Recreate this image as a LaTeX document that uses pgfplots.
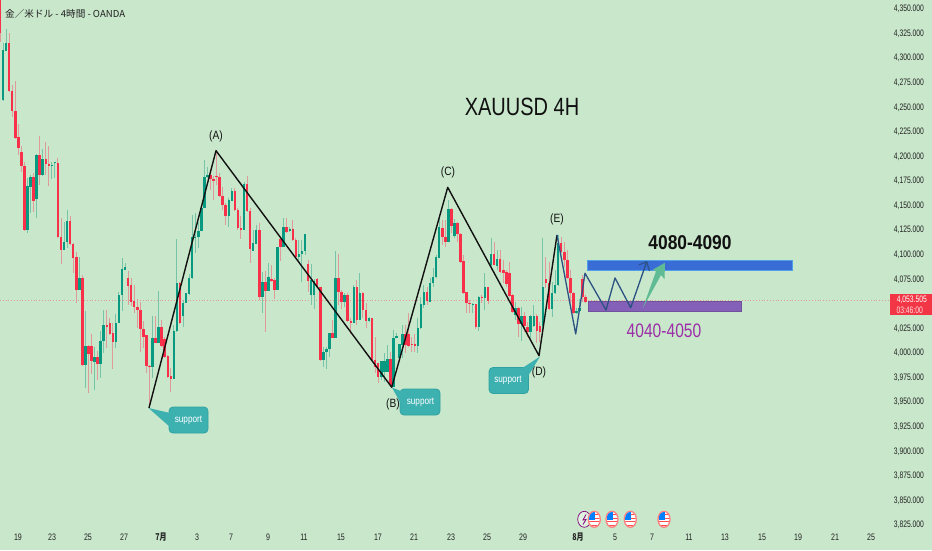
\documentclass[border=0pt]{standalone}
\usepackage{pgfplots}
\usepackage{pgfplotstable}
\usepackage{fontspec}
\pgfplotsset{compat=1.18}
\setmainfont{Liberation Sans}
\newfontfamily\cjk{Noto Sans CJK JP}
\definecolor{bgc}{HTML}{C9E7CB}
\definecolor{upc}{HTML}{089981}
\definecolor{dnc}{HTML}{F9304A}
\definecolor{upw}{HTML}{78C4A8}
\definecolor{dnw}{HTML}{E09A9A}
\definecolor{blk}{HTML}{111111}
\definecolor{wavec}{HTML}{2B5283}
\definecolor{zoneb}{HTML}{3A6CD6}
\definecolor{zonebe}{HTML}{4FA0E8}
\definecolor{zonep}{HTML}{8460B8}
\definecolor{arrg}{HTML}{5FBB94}
\definecolor{teal1}{HTML}{3DB0B0}
\definecolor{teal2}{HTML}{2FA3A3}
\definecolor{txtc}{HTML}{222222}
\definecolor{tagc}{HTML}{F23645}
\definecolor{purp}{HTML}{9C2FA8}
\pgfplotstableread{
x open high low close
1 4257.2 4315.2 4256.5 4308.4
2 4307.4 4329.7 4307.4 4315.2
9 4125.6 4177.8 4122.2 4169.7
10 4169.0 4181.2 4142.2 4178.8
12 4156.5 4202.2 4137.1 4201.2
14 4181.2 4207.7 4180.5 4197.1
17 4190.0 4194.1 4177.1 4191.4
18 4193.0 4194.8 4178.5 4194.1
21 4104.6 4133.7 4104.6 4112.7
22 4112.7 4145.6 4106.6 4134.4
26 4064.2 4097.8 4064.2 4076.8
28 3987.9 4042.8 3964.9 4006.9
31 3991.3 4006.6 3962.8 3996.0
33 3988.9 4022.5 3974.3 4012.7
34 4012.7 4043.9 4000.0 4028.9
38 4011.3 4039.5 4005.6 4031.0
39 4031.0 4061.8 4030.3 4059.1
40 4059.1 4096.4 4042.8 4085.6
41 4084.6 4091.3 4084.6 4087.9
50 3986.2 4037.8 3974.7 4015.7
52 4010.0 4063.5 4010.0 4026.6
57 3974.0 4028.6 3974.0 4022.8
58 4022.8 4116.1 4021.8 4071.0
60 4037.8 4054.0 4026.9 4051.3
61 4051.3 4061.5 4050.6 4060.8
62 4060.1 4080.5 4059.5 4076.1
63 4076.1 4140.5 4075.7 4117.8
64 4117.4 4142.9 4101.5 4118.5
65 4117.8 4133.7 4106.6 4123.9
66 4124.6 4150.7 4124.6 4147.3
67 4147.3 4196.5 4147.3 4179.5
68 4179.5 4189.7 4177.8 4181.2
75 4139.5 4157.5 4128.6 4155.8
76 4155.1 4167.6 4155.1 4164.9
80 4125.2 4174.4 4125.2 4172.0
83 4104.2 4125.2 4104.2 4111.7
84 4111.0 4130.3 4111.0 4125.2
86 4056.7 4082.8 4040.5 4072.0
88 4063.5 4091.3 4063.5 4077.4
91 4064.2 4108.3 4064.2 4108.3
93 4107.6 4137.8 4107.6 4128.0
95 4124.6 4128.0 4123.5 4126.6
98 4097.4 4115.1 4093.0 4100.8
99 4100.5 4115.0 4072.6 4104.2
100 4104.2 4120.8 4099.8 4120.8
102 4058.7 4090.6 4048.9 4074.3
103 4058.7 4075.0 4044.5 4073.7
106 3993.0 4006.5 3985.5 4001.4
107 4001.1 4006.5 3983.8 4003.8
108 4003.8 4020.1 3996.3 4020.1
110 4015.7 4104.2 4015.0 4076.0
113 4052.3 4060.8 4047.2 4059.1
116 4030.9 4069.3 4030.9 4067.6
118 4033.6 4081.1 4033.6 4060.8
121 4033.0 4036.4 4032.0 4035.3
125 3976.0 3992.3 3972.6 3991.6
126 3981.1 3999.7 3970.2 3991.6
127 3981.1 4008.2 3981.1 3994.0
129 3965.8 4023.5 3965.1 4015.0
130 4015.0 4020.1 4015.0 4017.4
131 3994.7 4009.2 3994.7 4009.2
132 4008.2 4028.6 3994.7 4019.1
137 4007.2 4035.3 3999.7 4025.2
138 4025.2 4057.4 4024.5 4049.9
139 4048.9 4069.3 4045.5 4061.8
141 4052.3 4076.0 4052.3 4071.0
142 4071.0 4086.2 4067.6 4077.1
143 4077.1 4099.8 4076.0 4098.1
144 4097.1 4140.5 4096.4 4127.9
147 4113.3 4155.7 4113.3 4146.2
149 4119.4 4136.1 4116.7 4132.0
155 4048.6 4051.3 4040.4 4049.6
157 4026.9 4058.1 4022.8 4057.4
159 4056.0 4081.8 4043.8 4066.9
161 4089.6 4116.7 4084.5 4100.8
163 4088.6 4104.9 4084.5 4095.4
169 4038.7 4052.3 4033.6 4046.2
171 4029.6 4047.2 4012.6 4037.7
174 4021.1 4038.7 4013.3 4037.7
175 4027.5 4048.9 4026.9 4037.7
178 4027.5 4116.7 4021.8 4066.9
181 4044.8 4072.6 4037.0 4060.8
182 4060.8 4084.5 4060.1 4069.3
183 4069.3 4120.1 4068.2 4111.6
189 4040.4 4045.5 4039.8 4043.1
190 4043.1 4054.7 4042.1 4045.5
}\uptable
\pgfplotstableread{
x open high low close
0 4360.0 4362.0 4316.0 4325.7
3 4315.2 4325.3 4266.0 4267.0
4 4267.0 4272.8 4240.5 4246.3
5 4246.3 4276.8 4218.5 4219.2
6 4219.9 4233.1 4201.6 4209.0
7 4204.6 4211.0 4184.6 4190.4
8 4190.4 4194.8 4124.9 4125.6
11 4178.8 4182.9 4143.2 4155.1
13 4201.2 4221.2 4171.0 4181.2
15 4197.1 4215.1 4181.2 4192.7
16 4192.7 4210.7 4169.7 4190.0
19 4193.0 4198.2 4116.8 4118.1
20 4118.1 4137.8 4091.0 4105.2
23 4134.4 4139.8 4110.0 4110.7
24 4111.4 4111.7 4081.2 4097.1
25 4097.8 4102.5 4050.7 4064.2
27 4076.8 4079.5 3987.2 3987.9
29 4006.9 4008.3 3959.8 3999.1
30 4006.9 4019.1 3978.4 3992.0
32 3996.0 4002.2 3972.7 3988.9
35 4028.9 4043.9 4005.6 4026.6
36 4030.3 4036.1 4018.4 4019.8
37 4020.5 4030.3 3983.8 4011.3
42 4076.1 4083.5 4049.0 4068.6
43 4069.3 4076.8 4048.3 4052.3
44 4053.0 4069.3 4040.5 4046.6
45 4046.9 4055.1 4025.2 4043.5
46 4043.5 4052.3 4000.8 4024.2
47 4024.2 4032.7 4005.6 4016.7
48 4018.4 4018.4 3979.4 3986.9
49 3987.2 3987.9 3947.0 3985.5
51 4015.7 4037.8 4010.0 4010.0
53 4026.6 4033.7 4006.6 4007.2
54 4014.0 4016.7 3995.7 3996.4
55 3997.1 3998.1 3975.4 3976.0
56 3976.7 3984.5 3960.8 3974.0
59 4071.0 4072.7 4029.6 4031.0
69 4181.2 4182.9 4165.9 4176.8
70 4176.8 4180.2 4155.8 4175.4
71 4180.2 4203.2 4171.0 4179.5
72 4179.5 4182.9 4158.5 4160.2
73 4160.2 4169.3 4145.6 4150.7
74 4150.7 4152.4 4130.3 4139.5
77 4164.9 4167.6 4144.9 4145.9
78 4145.9 4147.3 4125.2 4126.9
79 4126.9 4139.5 4116.1 4125.2
81 4172.0 4180.2 4143.9 4144.9
82 4144.9 4147.3 4092.0 4105.9
85 4125.2 4132.7 4054.0 4056.7
87 4072.0 4083.9 4021.8 4063.5
89 4075.1 4089.6 4072.7 4073.7
90 4074.0 4076.1 4054.7 4064.2
92 4116.4 4118.5 4094.0 4107.6
94 4128.0 4137.8 4123.2 4123.5
96 4126.3 4135.4 4114.4 4115.1
97 4115.1 4116.8 4096.4 4097.4
101 4090.3 4094.7 4062.5 4073.7
104 4075.0 4076.0 4066.9 4067.6
105 4067.6 4067.6 3992.3 3993.0
109 4020.1 4033.6 4015.7 4015.7
111 4076.0 4100.8 4048.9 4061.8
112 4061.8 4064.2 4044.5 4052.3
114 4059.1 4060.8 4032.0 4033.0
115 4033.0 4035.4 4019.4 4030.9
117 4067.6 4074.3 4028.6 4033.6
119 4060.8 4062.5 4035.3 4043.8
120 4043.8 4050.6 4025.2 4033.0
122 4035.3 4035.3 3992.3 3993.0
123 3993.0 4016.7 3979.4 3986.2
124 3990.2 3990.2 3969.2 3976.0
128 3994.0 4001.4 3965.8 3967.5
133 4019.1 4028.6 3999.7 4008.2
134 4019.1 4041.1 4006.5 4007.5
135 4009.2 4016.7 4001.4 4008.2
136 4008.9 4019.1 4001.4 4007.2
140 4062.5 4067.6 4048.9 4053.3
145 4127.6 4135.4 4109.9 4117.7
146 4118.4 4135.4 4107.6 4112.7
148 4146.2 4147.3 4121.8 4129.3
150 4132.0 4133.7 4113.3 4121.1
151 4121.1 4121.8 4092.7 4093.0
152 4093.7 4099.8 4060.8 4061.5
153 4061.8 4062.5 4040.4 4051.3
154 4051.3 4054.0 4041.1 4049.6
156 4049.6 4049.9 4024.8 4026.9
158 4057.4 4059.1 4050.6 4056.0
160 4066.9 4067.6 4049.9 4053.3
162 4100.8 4113.3 4089.6 4089.6
164 4095.4 4104.9 4081.1 4082.8
165 4084.5 4094.7 4071.0 4081.8
166 4082.5 4084.5 4067.6 4070.3
167 4081.1 4093.0 4057.4 4058.1
168 4058.7 4060.1 4040.4 4041.8
170 4046.2 4047.2 4016.7 4029.6
172 4037.7 4042.1 4021.8 4027.5
173 4026.9 4032.0 4016.7 4021.8
176 4037.7 4039.8 4009.9 4022.5
177 4027.5 4032.0 4011.6 4021.8
179 4075.0 4098.1 4065.9 4071.6
180 4071.6 4093.0 4043.8 4044.8
184 4111.6 4118.4 4101.5 4103.2
185 4103.2 4113.3 4087.9 4094.7
186 4094.7 4104.9 4075.0 4076.0
187 4076.0 4084.5 4050.6 4060.8
188 4060.8 4062.5 4039.8 4041.1
191 4075.0 4079.4 4052.3 4057.4
192 4057.4 4058.7 4051.6 4052.3
}\downtable
\begin{document}
\begin{tikzpicture}
\useasboundingbox (0,0) rectangle (932pt,550pt);
\begin{axis}[
  width=932pt,height=550pt,scale only axis,
  xmin=0,xmax=305.57,ymin=3799.6,ymax=4359.2,
  axis background/.style={fill=bgc},
  axis line style={draw=none},
  major tick length=0pt,
  tick style={draw=none},
  ytick={3825,3850,3875,3900,3925,3950,3975,4000,4025,4075,4100,4125,4150,4175,4200,4225,4250,4275,4300,4325,4350},
  yticklabel pos=right,
  scaled y ticks=false,
  yticklabel style={/pgf/number format/fixed,/pgf/number format/fixed zerofill,/pgf/number format/precision=3,/pgf/number format/1000 sep={,},/pgf/number format/assume math mode=true,
    anchor=east,xshift=-5.5pt,xscale=.72,transform shape,font=\fontsize{9.4}{10}\selectfont,text=txtc},
  xtick={5.9,17.05,28.85,40.66,52.79,64.59,75.74,87.87,99.67,111.8,123.93,135.74,147.87,159.67,171.48,189.51,201.64,213.77,225.9,237.7,249.84,261.64,273.77,285.57},
  xticklabels={19,23,25,27,{\cjk\bfseries 7月},3,7,9,11,15,17,21,23,25,29,{\cjk\bfseries 8月},5,7,11,13,15,19,21,25},
  xticklabel style={anchor=center,yshift=13pt,xscale=.75,transform shape,font=\fontsize{9.4}{10}\selectfont,text=txtc},
  error bars/error mark=none,
]
% current price line
\addplot[dnw,line width=0.8pt,dotted,forget plot] coordinates {(0,4053.5) (291.8,4053.5)};
% wicks
\addplot[draw=none,forget plot,error bars/.cd,y dir=both,y explicit,error bar style={line width=1pt,upw}]
  table[x=x,y=close,y error plus expr=\thisrow{high}-\thisrow{close},y error minus expr=\thisrow{close}-\thisrow{low}]{\uptable};
\addplot[draw=none,forget plot,error bars/.cd,y dir=both,y explicit,error bar style={line width=1pt,dnw}]
  table[x=x,y=close,y error plus expr=\thisrow{high}-\thisrow{close},y error minus expr=\thisrow{close}-\thisrow{low}]{\downtable};
% bodies
\addplot[draw=none,forget plot,error bars/.cd,y dir=plus,y explicit,error bar style={line width=2.5pt,upc}]
  table[x=x,y=open,y error plus expr=\thisrow{close}-\thisrow{open}]{\uptable};
\addplot[draw=none,forget plot,error bars/.cd,y dir=minus,y explicit,error bar style={line width=2.5pt,dnc}]
  table[x=x,y=open,y error minus expr=\thisrow{open}-\thisrow{close}]{\downtable};
% zones
\addplot[fill=zoneb,draw=zonebe,line width=0.6pt,forget plot] coordinates {(192.69,4084.5) (259.90,4084.5) (259.90,4094.7) (192.69,4094.7)} --cycle;
\addplot[fill=zonep,draw=zonep!85!black,line width=0.4pt,forget plot] coordinates {(192.69,4042.1) (242.85,4042.1) (242.85,4053.0) (192.69,4053.0)} --cycle;
% black wave
\addplot[blk,line width=1.4pt,line join=round,forget plot] coordinates {(48.85,3944.1) (70.82,4205.9) (128.43,3965.2) (146.79,4168.6) (176.72,3997.3) (182.62,4120.1)};
% green arrow
\addplot[fill=arrg,draw=none,forget plot] coordinates {(210.72,4045.5) (215.08,4083) (214.1,4085) (218.03,4091.9) (217.87,4075.3) (216.72,4079.4)} --cycle;
% blue projection
\addplot[wavec,line width=1.3pt,line join=round,forget plot] coordinates {(182.62,4120.1) (188.75,4019.4) (191.80,4081.2) (198.69,4043.8) (201.64,4076.4) (206.79,4046.1) (212.03,4092.9)};
\addplot[wavec,line width=1.1pt,line join=round,forget plot] coordinates {(209.41,4089.6) (212.03,4092.9) (212.95,4083.5)};
\end{axis}
\begin{scope}[shift={(0pt,550pt)},x=1pt,y=-1pt]
% title
\node[anchor=west,inner sep=0pt,text=txtc,font=\cjk\fontsize{9.6}{12}\selectfont] at (5,14) {金／米ドル - 4時間 - OANDA};
\node[text=blk,xscale=.8,transform shape,font=\fontsize{25}{28}\selectfont] at (522,107) {XAUUSD 4H};
\node[text=blk,xscale=.87,transform shape,font=\bfseries\fontsize{20}{22}\selectfont] at (690,243) {4080-4090};
\node[text=purp,xscale=.8,transform shape,font=\fontsize{19.5}{22}\selectfont] at (664,331) {4040-4050};
\foreach \t/\a/\b in {(A)/216/136,(B)/393/404,(C)/448/172,(D)/539/372,(E)/557/219}{
  \node[text=blk,xscale=.85,transform shape,font=\fontsize{12}{14}\selectfont] at (\a,\b) {\t};
}
% callouts
\draw[fill=teal1,draw=teal2,line width=.8pt,rounded corners=4pt] (169,407) rectangle (208,433);
\fill[teal1] (148.5,408) -- (170,413) -- (170,427) -- cycle;
\node[text=white,xscale=.82,transform shape,font=\fontsize{10}{12}\selectfont] at (188.5,420) {support};
\draw[fill=teal1,draw=teal2,line width=.8pt,rounded corners=4pt] (400,389) rectangle (440,415);
\fill[teal1] (392,387.5) -- (402.5,391.7) -- (402.5,406.7) -- cycle;
\node[text=white,xscale=.82,transform shape,font=\fontsize{10}{12}\selectfont] at (420.5,402) {support};
\draw[fill=teal1,draw=teal2,line width=.8pt,rounded corners=4pt] (489,367.5) rectangle (528.5,393.5);
\fill[teal1] (540,356.5) -- (521,369) -- (527.5,377) -- cycle;
\node[text=white,xscale=.82,transform shape,font=\fontsize{10}{12}\selectfont] at (508,380) {support};
% event icons
\draw[draw=purple!70!blue,line width=.7pt,fill=bgc!60!white] (584.3,519.3) ellipse (6.6 and 8);
\draw[draw=purple!70!blue,line width=.8pt] (586,514.5) -- (583,520) -- (586,519.5) -- (583,524.5);
\foreach \c in {594.3,612,630.3,664}{
  \begin{scope}
  \draw[draw=red!50!white,line width=1.3pt,fill=white] (\c,519.3) ellipse (6 and 8);
  \clip (\c,519.3) ellipse (5.3 and 7.3);
  \fill[red!70!white] (\c-5.5,513.5) rectangle (\c+5.5,515);
  \fill[red!70!white] (\c-5.5,517.5) rectangle (\c+5.5,519);
  \fill[red!70!white] (\c-5.5,521) rectangle (\c+5.5,522.2);
  \fill[red!70!white] (\c-5.5,524.6) rectangle (\c+5.5,525.8);
  \fill[blue!50!cyan] (\c-5.5,511) rectangle (\c+0.5,519.5);
  \end{scope}
}
% price tag
\fill[tagc] (890,294.3) rectangle (932,315);
\node[text=white,inner sep=0pt,xscale=.72,transform shape,font=\fontsize{9.4}{10}\selectfont,anchor=east] at (927,299.5) {4,053.505};
\node[text=white!85!tagc,inner sep=0pt,xscale=.72,transform shape,font=\fontsize{9.4}{10}\selectfont,anchor=east] at (923,310.4) {03:46:00};
\end{scope}
\end{tikzpicture}
\end{document}
